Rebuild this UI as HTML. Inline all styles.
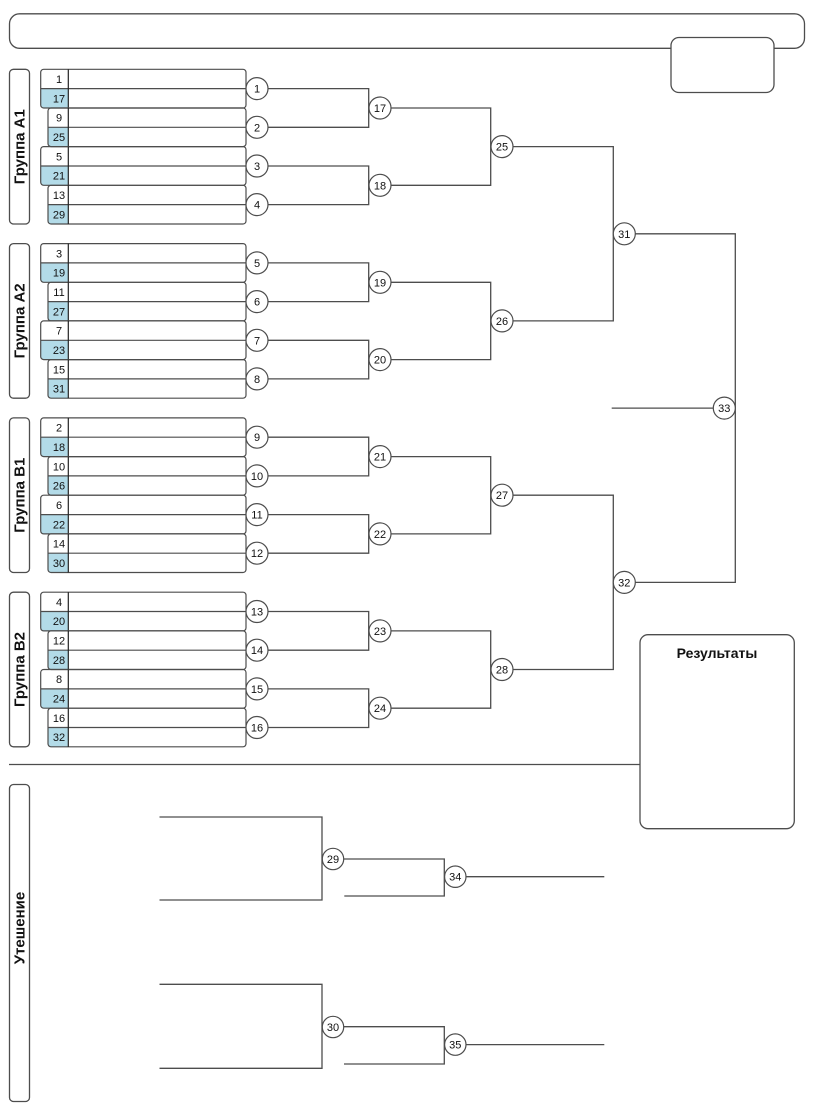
<!DOCTYPE html>
<html>
<head>
<meta charset="utf-8">
<style>
html,body{margin:0;padding:0;background:#fff;}
svg{display:block;}
text{font-family:"Liberation Sans","DejaVu Sans",sans-serif;fill:#111;}
.n{font-size:11px;text-anchor:middle;}
.c{font-size:11px;text-anchor:middle;}
.g{font-size:15px;font-weight:bold;text-anchor:middle;}
</style>
</head>
<body>
<svg width="827" height="1116" viewBox="0 0 827 1116" xmlns="http://www.w3.org/2000/svg">
<g fill="none" stroke="#4d4d4d" stroke-width="1.3">
  <!-- top boxes -->
  <rect x="9.5" y="13.8" width="795" height="34.5" rx="10"/>
  <rect x="671" y="37.5" width="103" height="55" rx="8" fill="#fff"/>
  <!-- group label boxes -->
  <rect x="9.5" y="69.3" width="20" height="154.7" rx="4"/>
  <rect x="9.5" y="243.6" width="20" height="154.6" rx="4"/>
  <rect x="9.5" y="417.9" width="20" height="154.6" rx="4"/>
  <rect x="9.5" y="592.2" width="20" height="154.6" rx="4"/>
  <rect x="9.5" y="784.5" width="20" height="317" rx="4"/>
  <!-- results -->
  <rect x="640" y="634.7" width="154.3" height="194" rx="8"/>
  <line x1="9" y1="764.5" x2="640" y2="764.5"/>

  <!-- bracket lines -->
  <path d="M257 88.6H368.7V127.3H257"/>
  <path d="M257 166H368.7V204.6H257"/>
  <path d="M257 262.9H368.7V301.6H257"/>
  <path d="M257 340.3H368.7V378.9H257"/>
  <path d="M257 437.2H368.7V475.9H257"/>
  <path d="M257 514.6H368.7V553.2H257"/>
  <path d="M257 611.5H368.7V650.2H257"/>
  <path d="M257 688.9H368.7V727.5H257"/>

  <path d="M380 108H490.7V185.3H380"/>
  <path d="M380 282.3H490.7V359.6H380"/>
  <path d="M380 456.6H490.7V533.9H380"/>
  <path d="M380 630.9H490.7V708.2H380"/>

  <path d="M502 146.6H613.3V320.9H502"/>
  <path d="M502 495.2H613.3V669.5H502"/>

  <path d="M624.3 233.8H735.3V582.4H624.3"/>
  <path d="M611.7 408.1H724"/>

  <!-- consolation -->
  <path d="M159.5 817H322V900H159.5"/>
  <path d="M333 859H444.3V896H344.3"/>
  <path d="M455 876.7H604.3"/>
  <path d="M159.5 984.3H322V1068.3H159.5"/>
  <path d="M333 1026.7H444.3V1064H344"/>
  <path d="M455 1044.6H604.3"/>
</g>

<!-- player pair boxes -->
<g id="pairs">
<!-- helper pattern repeated: box, blue cell, divider, cell line -->
</g>
<g stroke="#4d4d4d" stroke-width="1.2">
<!-- A1 -->
<path d="M40.7 88.6H68.3V108H43.7Q40.7 108 40.7 105Z" fill="#b3dbe8" stroke="none"/>
<rect x="40.7" y="69.3" width="205.3" height="38.7" rx="3" fill="none"/>
<line x1="40.7" y1="88.6" x2="246" y2="88.6"/>
<line x1="68.3" y1="69.3" x2="68.3" y2="108" stroke="#222"/>
<path d="M48 127.3H68.3V146.6H51Q48 146.6 48 143.6Z" fill="#b3dbe8" stroke="none"/>
<rect x="48" y="108" width="198" height="38.6" rx="3" fill="none"/>
<line x1="48" y1="127.3" x2="246" y2="127.3"/>
<line x1="68.3" y1="108" x2="68.3" y2="146.6" stroke="#222"/>
<path d="M40.7 166H68.3V185.3H43.7Q40.7 185.3 40.7 182.3Z" fill="#b3dbe8" stroke="none"/>
<rect x="40.7" y="146.6" width="205.3" height="38.7" rx="3" fill="none"/>
<line x1="40.7" y1="166" x2="246" y2="166"/>
<line x1="68.3" y1="146.6" x2="68.3" y2="185.3" stroke="#222"/>
<path d="M48 204.6H68.3V224H51Q48 224 48 221Z" fill="#b3dbe8" stroke="none"/>
<rect x="48" y="185.3" width="198" height="38.7" rx="3" fill="none"/>
<line x1="48" y1="204.6" x2="246" y2="204.6"/>
<line x1="68.3" y1="185.3" x2="68.3" y2="224" stroke="#222"/>
<!-- A2 -->
<path d="M40.7 262.9H68.3V282.3H43.7Q40.7 282.3 40.7 279.3Z" fill="#b3dbe8" stroke="none"/>
<rect x="40.7" y="243.6" width="205.3" height="38.7" rx="3" fill="none"/>
<line x1="40.7" y1="262.9" x2="246" y2="262.9"/>
<line x1="68.3" y1="243.6" x2="68.3" y2="282.3" stroke="#222"/>
<path d="M48 301.6H68.3V320.9H51Q48 320.9 48 317.9Z" fill="#b3dbe8" stroke="none"/>
<rect x="48" y="282.3" width="198" height="38.6" rx="3" fill="none"/>
<line x1="48" y1="301.6" x2="246" y2="301.6"/>
<line x1="68.3" y1="282.3" x2="68.3" y2="320.9" stroke="#222"/>
<path d="M40.7 340.3H68.3V359.6H43.7Q40.7 359.6 40.7 356.6Z" fill="#b3dbe8" stroke="none"/>
<rect x="40.7" y="320.9" width="205.3" height="38.7" rx="3" fill="none"/>
<line x1="40.7" y1="340.3" x2="246" y2="340.3"/>
<line x1="68.3" y1="320.9" x2="68.3" y2="359.6" stroke="#222"/>
<path d="M48 378.9H68.3V398.2H51Q48 398.2 48 395.2Z" fill="#b3dbe8" stroke="none"/>
<rect x="48" y="359.6" width="198" height="38.6" rx="3" fill="none"/>
<line x1="48" y1="378.9" x2="246" y2="378.9"/>
<line x1="68.3" y1="359.6" x2="68.3" y2="398.2" stroke="#222"/>
<!-- B1 -->
<path d="M40.7 437.2H68.3V456.6H43.7Q40.7 456.6 40.7 453.6Z" fill="#b3dbe8" stroke="none"/>
<rect x="40.7" y="417.9" width="205.3" height="38.7" rx="3" fill="none"/>
<line x1="40.7" y1="437.2" x2="246" y2="437.2"/>
<line x1="68.3" y1="417.9" x2="68.3" y2="456.6" stroke="#222"/>
<path d="M48 475.9H68.3V495.2H51Q48 495.2 48 492.2Z" fill="#b3dbe8" stroke="none"/>
<rect x="48" y="456.6" width="198" height="38.6" rx="3" fill="none"/>
<line x1="48" y1="475.9" x2="246" y2="475.9"/>
<line x1="68.3" y1="456.6" x2="68.3" y2="495.2" stroke="#222"/>
<path d="M40.7 514.6H68.3V533.9H43.7Q40.7 533.9 40.7 530.9Z" fill="#b3dbe8" stroke="none"/>
<rect x="40.7" y="495.2" width="205.3" height="38.7" rx="3" fill="none"/>
<line x1="40.7" y1="514.6" x2="246" y2="514.6"/>
<line x1="68.3" y1="495.2" x2="68.3" y2="533.9" stroke="#222"/>
<path d="M48 553.2H68.3V572.5H51Q48 572.5 48 569.5Z" fill="#b3dbe8" stroke="none"/>
<rect x="48" y="533.9" width="198" height="38.6" rx="3" fill="none"/>
<line x1="48" y1="553.2" x2="246" y2="553.2"/>
<line x1="68.3" y1="533.9" x2="68.3" y2="572.5" stroke="#222"/>
<!-- B2 -->
<path d="M40.7 611.5H68.3V630.9H43.7Q40.7 630.9 40.7 627.9Z" fill="#b3dbe8" stroke="none"/>
<rect x="40.7" y="592.2" width="205.3" height="38.7" rx="3" fill="none"/>
<line x1="40.7" y1="611.5" x2="246" y2="611.5"/>
<line x1="68.3" y1="592.2" x2="68.3" y2="630.9" stroke="#222"/>
<path d="M48 650.2H68.3V669.5H51Q48 669.5 48 666.5Z" fill="#b3dbe8" stroke="none"/>
<rect x="48" y="630.9" width="198" height="38.6" rx="3" fill="none"/>
<line x1="48" y1="650.2" x2="246" y2="650.2"/>
<line x1="68.3" y1="630.9" x2="68.3" y2="669.5" stroke="#222"/>
<path d="M40.7 688.9H68.3V708.2H43.7Q40.7 708.2 40.7 705.2Z" fill="#b3dbe8" stroke="none"/>
<rect x="40.7" y="669.5" width="205.3" height="38.7" rx="3" fill="none"/>
<line x1="40.7" y1="688.9" x2="246" y2="688.9"/>
<line x1="68.3" y1="669.5" x2="68.3" y2="708.2" stroke="#222"/>
<path d="M48 727.5H68.3V746.8H51Q48 746.8 48 743.8Z" fill="#b3dbe8" stroke="none"/>
<rect x="48" y="708.2" width="198" height="38.6" rx="3" fill="none"/>
<line x1="48" y1="727.5" x2="246" y2="727.5"/>
<line x1="68.3" y1="708.2" x2="68.3" y2="746.8" stroke="#222"/>
</g>

<!-- seed numbers -->
<g class="n">
<text class="n" x="59" y="83">1</text><text class="n" x="59" y="102.3">17</text>
<text class="n" x="59" y="121.7">9</text><text class="n" x="59" y="141">25</text>
<text class="n" x="59" y="160.3">5</text><text class="n" x="59" y="179.7">21</text>
<text class="n" x="59" y="199">13</text><text class="n" x="59" y="218.3">29</text>

<text class="n" x="59" y="257.3">3</text><text class="n" x="59" y="276.6">19</text>
<text class="n" x="59" y="296">11</text><text class="n" x="59" y="315.3">27</text>
<text class="n" x="59" y="334.6">7</text><text class="n" x="59" y="354">23</text>
<text class="n" x="59" y="373.3">15</text><text class="n" x="59" y="392.6">31</text>

<text class="n" x="59" y="431.6">2</text><text class="n" x="59" y="450.9">18</text>
<text class="n" x="59" y="470.3">10</text><text class="n" x="59" y="489.6">26</text>
<text class="n" x="59" y="508.9">6</text><text class="n" x="59" y="528.3">22</text>
<text class="n" x="59" y="547.6">14</text><text class="n" x="59" y="566.9">30</text>

<text class="n" x="59" y="605.9">4</text><text class="n" x="59" y="625.2">20</text>
<text class="n" x="59" y="644.6">12</text><text class="n" x="59" y="663.9">28</text>
<text class="n" x="59" y="683.2">8</text><text class="n" x="59" y="702.6">24</text>
<text class="n" x="59" y="721.9">16</text><text class="n" x="59" y="741.2">32</text>
</g>

<!-- group labels -->
<text class="g" transform="translate(24.5 146.7) rotate(-90)">Группа А1</text>
<text class="g" transform="translate(24.5 320.9) rotate(-90)">Группа А2</text>
<text class="g" transform="translate(24.5 495.2) rotate(-90)">Группа В1</text>
<text class="g" transform="translate(24.5 669.5) rotate(-90)">Группа В2</text>
<text class="g" transform="translate(24.5 928) rotate(-90)">Утешение</text>

<text x="717" y="658" style="font-size:14px;font-weight:bold;text-anchor:middle;">Результаты</text>

<!-- circles -->
<g fill="#fff" stroke="#4d4d4d" stroke-width="1.2">
<circle cx="257" cy="88.6" r="11"/><circle cx="257" cy="127.3" r="11"/>
<circle cx="257" cy="166" r="11"/><circle cx="257" cy="204.6" r="11"/>
<circle cx="257" cy="262.9" r="11"/><circle cx="257" cy="301.6" r="11"/>
<circle cx="257" cy="340.3" r="11"/><circle cx="257" cy="378.9" r="11"/>
<circle cx="257" cy="437.2" r="11"/><circle cx="257" cy="475.9" r="11"/>
<circle cx="257" cy="514.6" r="11"/><circle cx="257" cy="553.2" r="11"/>
<circle cx="257" cy="611.5" r="11"/><circle cx="257" cy="650.2" r="11"/>
<circle cx="257" cy="688.9" r="11"/><circle cx="257" cy="727.5" r="11"/>
<circle cx="380" cy="108" r="11"/><circle cx="380" cy="185.3" r="11"/>
<circle cx="380" cy="282.3" r="11"/><circle cx="380" cy="359.6" r="11"/>
<circle cx="380" cy="456.6" r="11"/><circle cx="380" cy="533.9" r="11"/>
<circle cx="380" cy="630.9" r="11"/><circle cx="380" cy="708.2" r="11"/>
<circle cx="502" cy="146.6" r="11"/><circle cx="502" cy="320.9" r="11"/>
<circle cx="502" cy="495.2" r="11"/><circle cx="502" cy="669.5" r="11"/>
<circle cx="624.3" cy="233.8" r="11"/><circle cx="624.3" cy="582.4" r="11"/>
<circle cx="724.3" cy="408.1" r="11"/>
<circle cx="333" cy="859" r="10.7"/><circle cx="455.3" cy="876.7" r="10.7"/>
<circle cx="333" cy="1027" r="10.7"/><circle cx="455.3" cy="1044.6" r="10.7"/>
</g>
<g>
<text class="c" x="257" y="92.6">1</text><text class="c" x="257" y="131.3">2</text>
<text class="c" x="257" y="170">3</text><text class="c" x="257" y="208.6">4</text>
<text class="c" x="257" y="266.9">5</text><text class="c" x="257" y="305.6">6</text>
<text class="c" x="257" y="344.3">7</text><text class="c" x="257" y="382.9">8</text>
<text class="c" x="257" y="441.2">9</text><text class="c" x="257" y="479.9">10</text>
<text class="c" x="257" y="518.6">11</text><text class="c" x="257" y="557.2">12</text>
<text class="c" x="257" y="615.5">13</text><text class="c" x="257" y="654.2">14</text>
<text class="c" x="257" y="692.9">15</text><text class="c" x="257" y="731.5">16</text>
<text class="c" x="380" y="112">17</text><text class="c" x="380" y="189.3">18</text>
<text class="c" x="380" y="286.3">19</text><text class="c" x="380" y="363.6">20</text>
<text class="c" x="380" y="460.6">21</text><text class="c" x="380" y="537.9">22</text>
<text class="c" x="380" y="634.9">23</text><text class="c" x="380" y="712.2">24</text>
<text class="c" x="502" y="150.6">25</text><text class="c" x="502" y="324.9">26</text>
<text class="c" x="502" y="499.2">27</text><text class="c" x="502" y="673.5">28</text>
<text class="c" x="624.3" y="237.8">31</text><text class="c" x="624.3" y="586.4">32</text>
<text class="c" x="724.3" y="412.1">33</text>
<text class="c" x="333" y="863">29</text><text class="c" x="455.3" y="880.7">34</text>
<text class="c" x="333" y="1031">30</text><text class="c" x="455.3" y="1048.6">35</text>
</g>
</svg>
</body>
</html>
